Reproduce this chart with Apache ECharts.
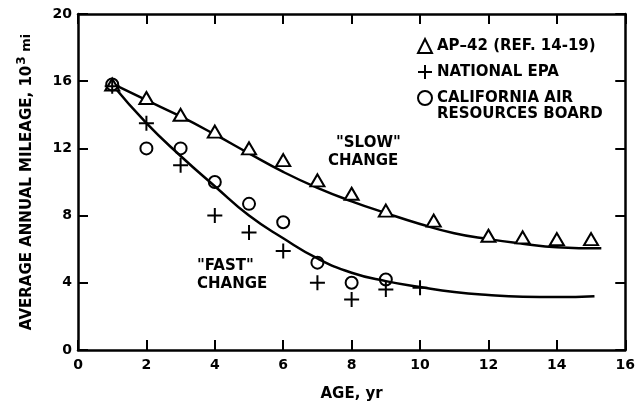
<!DOCTYPE html>
<html>
<head>
<meta charset="utf-8">
<script src="https://cdn.jsdelivr.net/npm/echarts@6/dist/echarts.min.js"></script>
<style>
html,body{margin:0;padding:0;background:#fff;}
#chart{width:638px;height:407px;}
</style>
</head>
<body>
<div id="chart"></div>
<script>
// ---- Data ----
var ap42 = [[1,15.8],[2,15.0],[3,14.0],[4,13.0],[5,12.0],[6,11.3],[7,10.1],[8,9.3],[9,8.3],[10.4,7.7],[12,6.8],[13,6.7],[14,6.6],[15,6.6]];
var nationalEpa = [[1,15.7],[2,13.5],[3,11.0],[4,8.0],[5,7.0],[6,5.9],[7,4.0],[8,3.0],[9,3.6],[10,3.7]];
var carb = [[1,15.8],[2,12.0],[3,12.0],[4,10.0],[5,8.7],[6,7.6],[7,5.2],[8,4.0],[9,4.2]];
var slowCurve = [[1,15.85],[2,14.87],[3,13.9],[4,12.83],[5,11.7],[6,10.6],[7,9.65],[8,8.85],[9,8.15],[10,7.5],[11,6.95],[12,6.6],[13,6.33],[14,6.12],[15.3,6.05]];
var fastCurve = [[1,15.8],[2,13.5],[3,11.55],[4,9.75],[5,8.0],[6,6.65],[7,5.45],[8,4.6],[9,4.1],[10,3.75],[11,3.45],[12,3.27],[13,3.17],[14,3.15],[15.1,3.2]];
var seriesNames = ['AP\u201342 (REF. 14-19)', 'NATIONAL EPA', 'CALIFORNIA AIR RESOURCES BOARD'];
var xTicks = {min:0, max:16, interval:2};
var yTicks = {min:0, max:20, interval:4};

var FONT = 'DejaVu Sans';
var chart = echarts.init(document.getElementById('chart'));

function axisBase(show){
  return {
    axisLine:{show:true, onZero:false, lineStyle:{color:'#000', width:2.5}},
    axisTick:{show:true, inside:true, length:10, lineStyle:{color:'#000', width:2}},
    splitLine:{show:false},
    axisLabel:{show:show, color:'#000', fontFamily:FONT, fontWeight:'bold', fontSize:14}
  };
}

var xBottom = Object.assign(axisBase(true), {
  type:'value', position:'bottom', min:xTicks.min, max:xTicks.max, interval:xTicks.interval,
  name:'AGE, yr', nameLocation:'middle', nameGap:37,
  nameTextStyle:{color:'#000', fontFamily:FONT, fontWeight:'bold', fontSize:15}
});
xBottom.axisLabel.margin = 8;
var xTop = Object.assign(axisBase(false), {
  type:'value', position:'top', min:xTicks.min, max:xTicks.max, interval:xTicks.interval
});
var yLeft = Object.assign(axisBase(true), {
  type:'value', position:'left', min:yTicks.min, max:yTicks.max, interval:yTicks.interval,
  name:'{a|AVERAGE ANNUAL MILEAGE, 10}{s|3}{m| mi}', nameLocation:'middle', nameGap:40, nameRotate:90,
  nameTextStyle:{
    rich:{
      a:{color:'#000', fontFamily:FONT, fontWeight:'bold', fontSize:15, lineHeight:22},
      s:{color:'#000', fontFamily:FONT, fontWeight:'bold', fontSize:12, lineHeight:22, padding:[0,0,10,1]},
      m:{color:'#000', fontFamily:FONT, fontWeight:'bold', fontSize:13, lineHeight:22}
    }
  }
});
yLeft.axisLabel.margin = 6;
yLeft.axisLabel.padding = [10,0,0,0];
var yRight = Object.assign(axisBase(false), {
  type:'value', position:'right', min:yTicks.min, max:yTicks.max, interval:yTicks.interval
});

var markStyle = {color:'#fff', borderColor:'#000', borderWidth:2, opacity:1};

var option = {
  backgroundColor:'#fff',
  animation:false,
  grid:{left:78, right:12, top:14, bottom:51, containLabel:false},
  xAxis:[xBottom, xTop],
  yAxis:[yLeft, yRight],
  legend:{
    data:seriesNames,
    orient:'vertical', left:412, top:32,
    itemWidth:14, itemHeight:14, itemGap:8,
    textStyle:{color:'#000', fontFamily:FONT, fontWeight:'bold', fontSize:15, lineHeight:18},
    formatter:function(n){ return n === seriesNames[2] ? 'CALIFORNIA AIR' : n; },
    selectedMode:false
  },
  graphic:[
    {type:'text', left:437, top:107, silent:true,
     style:{text:'RESOURCES BOARD', fill:'#000', font:'bold 15px "DejaVu Sans"'}},
    {type:'text', left:336, top:136, silent:true,
     style:{text:'"SLOW"', fill:'#000', font:'bold 15px "DejaVu Sans"'}},
    {type:'text', left:328, top:154, silent:true,
     style:{text:'CHANGE', fill:'#000', font:'bold 15px "DejaVu Sans"'}},
    {type:'text', left:197, top:259, silent:true,
     style:{text:'"FAST"', fill:'#000', font:'bold 15px "DejaVu Sans"'}},
    {type:'text', left:197, top:277, silent:true,
     style:{text:'CHANGE', fill:'#000', font:'bold 15px "DejaVu Sans"'}}
  ],
  series:[
    {name:'slow', type:'line', data:slowCurve, smooth:0.5, symbol:'none',
     lineStyle:{color:'#000', width:2.5}, z:1},
    {name:'fast', type:'line', data:fastCurve, smooth:0.5, symbol:'none',
     lineStyle:{color:'#000', width:2.5}, z:1},
    {name:seriesNames[0], type:'scatter', data:ap42, symbol:'triangle', symbolSize:[14,12],
     itemStyle:markStyle, z:3},
    {name:seriesNames[1], type:'scatter', data:nationalEpa, symbol:'path://M0,5L10,5M5,0L5,10', symbolSize:15,
     itemStyle:{color:'#000', borderColor:'#000', borderWidth:2, opacity:1}, z:4},
    {name:seriesNames[2], type:'scatter', data:carb, symbol:'circle', symbolSize:12,
     itemStyle:{color:'rgba(255,255,255,0)', borderColor:'#000', borderWidth:2, opacity:1}, z:3}
  ]
};
chart.setOption(option);
</script>
</body>
</html>
